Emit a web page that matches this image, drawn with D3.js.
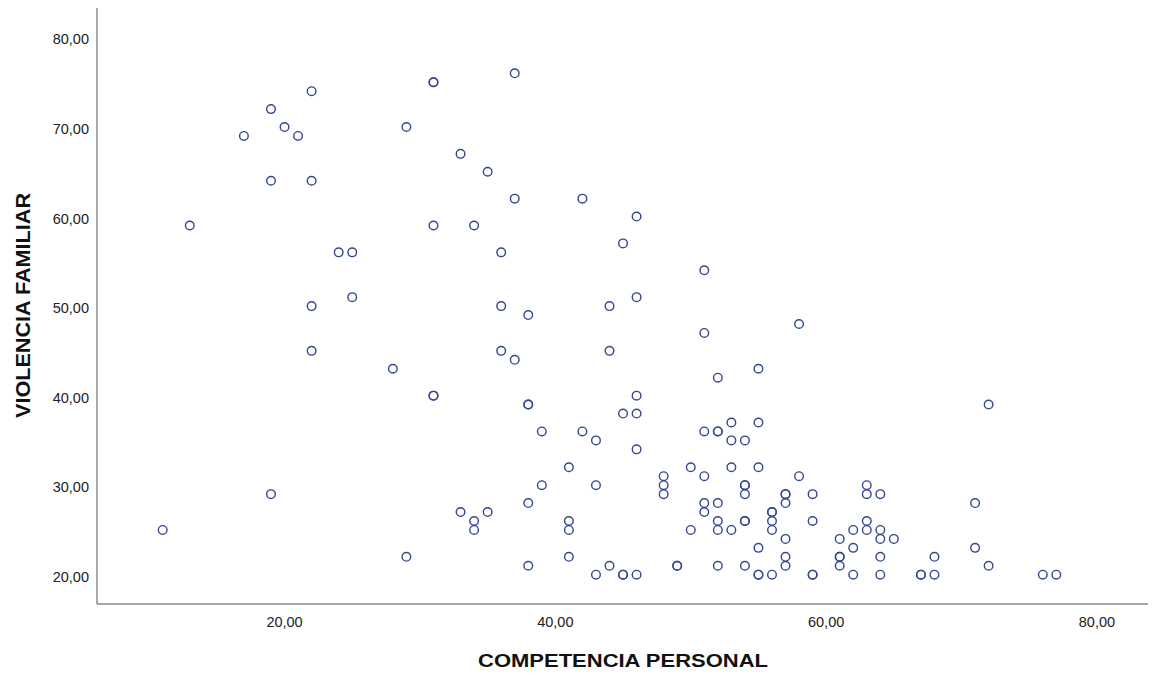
<!DOCTYPE html>
<html><head><meta charset="utf-8">
<script src="https://cdn.jsdelivr.net/npm/d3@7/dist/d3.min.js"></script>
<style>body{margin:0;background:#fff}</style>
</head><body>
<svg id="c" width="1156" height="675"></svg>
<script>
const competenciaPersonal = [31,31,22,19,20,21,17,29,19,22,13,31,24,25,25,37,33,35,37,42,46,34,36,45,51,46,
  22,22,28,31,19,11,29,36,38,44,51,36,37,44,52,55,31,38,38,46,45,46,39,42,43,46,51,52,52,53,55,53,54,
  41,39,43,38,48,48,48,50,51,53,55,54,54,54,33,35,34,34,41,41,51,51,52,52,52,53,54,54,50,56,56,56,55,
  38,41,43,44,45,45,46,49,49,52,54,55,56,
  58,72,58,57,57,57,59,56,59,57,57,57,55,59,59,63,63,64,63,63,62,64,61,64,65,62,61,61,61,64,68,62,64,67,67,68,71,71,72,76,77];
const violenciaFamiliar = [75,75,74,72,70,69,69,70,64,64,59,59,56,56,51,76,67,65,62,62,60,59,56,57,54,51,
  50,45,43,40,29,25,22,50,49,50,47,45,44,45,42,43,40,39,39,40,38,38,36,36,35,34,36,36,36,37,37,35,35,
  32,30,30,28,31,30,29,32,31,32,32,30,30,29,27,27,26,25,26,25,28,27,28,26,25,25,26,26,25,27,26,25,23,
  21,22,20,21,20,20,20,21,21,21,21,20,20,
  48,39,31,29,29,28,29,27,26,24,22,21,20,20,20,30,29,29,26,25,25,25,24,24,24,23,22,22,21,22,22,20,20,20,20,20,28,23,21,20,20];
const xTicks = [20,40,60,80];
const yTicks = [20,30,40,50,60,70,80];
const xTitle = "COMPETENCIA PERSONAL";
const yTitle = "VIOLENCIA FAMILIAR";

const svg = d3.select("#c");
const L = 97, R = 1148, T = 8, B = 604;
const x = d3.scaleLinear().domain([6.15, 83.77]).range([L, R]);
const y = d3.scaleLinear().domain([16.73, 83.29]).range([B, T]);
const fmt = v => d3.format(".2f")(v).replace(".", ",");
const font = "Liberation Sans, Arial, sans-serif";

// axes lines
svg.append("line").attr("x1", L).attr("x2", L).attr("y1", T).attr("y2", B)
  .attr("stroke", "#8a8a8a").attr("stroke-width", 1.5);
svg.append("line").attr("x1", L).attr("x2", R).attr("y1", B).attr("y2", B)
  .attr("stroke", "#8a8a8a").attr("stroke-width", 1.5);

// tick labels
svg.append("g").selectAll("text").data(yTicks).join("text")
  .attr("x", 89).attr("y", d => y(d) + 7)
  .attr("text-anchor", "end").attr("font-family", font)
  .attr("font-size", 14.5).attr("fill", "#222").text(fmt);
svg.append("g").selectAll("text").data(xTicks).join("text")
  .attr("x", d => x(d)).attr("y", 627)
  .attr("text-anchor", "middle").attr("font-family", font)
  .attr("font-size", 14.5).attr("fill", "#222").text(fmt);

// titles
svg.append("text").attr("x", 623).attr("y", 667).attr("text-anchor", "middle")
  .attr("font-family", font).attr("font-weight", "bold")
  .attr("font-size", 19).attr("fill", "#111")
  .attr("textLength", 290).attr("lengthAdjust", "spacingAndGlyphs").text(xTitle);
svg.append("text").attr("transform", "translate(29.5,305.5) rotate(-90)").attr("text-anchor", "middle")
  .attr("font-family", font).attr("font-weight", "bold")
  .attr("font-size", 21).attr("fill", "#111")
  .attr("textLength", 225).attr("lengthAdjust", "spacingAndGlyphs").text(yTitle);

// points
const pts = competenciaPersonal.map((v, i) => ({cx: v, vy: violenciaFamiliar[i]}));
svg.append("g").selectAll("circle").data(pts).join("circle")
  .attr("cx", d => x(d.cx)).attr("cy", d => y(d.vy)).attr("r", 4.3)
  .attr("fill", "none").attr("stroke", "#34468f").attr("stroke-width", 1.4);
</script>
</body></html>
